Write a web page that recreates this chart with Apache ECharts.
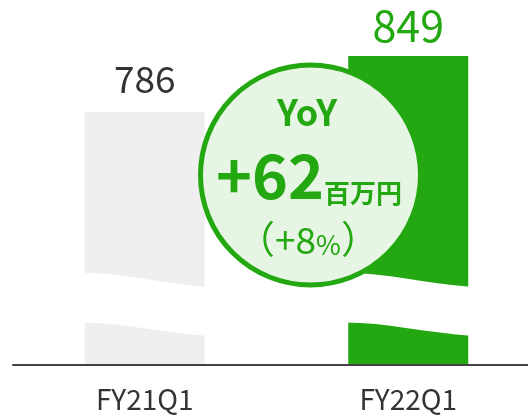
<!DOCTYPE html>
<html>
<head>
<meta charset="utf-8">
<script src="https://cdn.jsdelivr.net/npm/echarts@6/dist/echarts.min.js"></script>
<style>
  html, body { margin: 0; padding: 0; background: #fff; }
  #chart { width: 528px; height: 418px; }
</style>
</head>
<body>
<div id="chart"></div>
<script>
// data
const categories = ['FY21Q1', 'FY22Q1']
const sales = [786, 849]
const yoyDiff = [62]   // 百万円
const yoyPct = [8]     // %
// wavy axis break drawn across each bar (values at the left / right bar edge)
const breakUpper = [605, 589]
const breakLower = [549, 534]

const green = '#23a812'
const barColors = ['#efefef', green]
const labelColors = ['#333333', green]
const labelSizes = [37, 43]
const labelGaps = [15, 9]
const barWidth = 120
const fontFamily = '"Noto Sans CJK JP", "Noto Sans", sans-serif'

const chart = echarts.init(document.getElementById('chart'), null, { renderer: 'canvas' })

chart.setOption({
  animation: false,
  grid: {
    left: 13,
    width: 527,
    top: 56,
    bottom: 53,
    outerBoundsMode: 'none',
    containLabel: false
  },
  xAxis: {
    type: 'category',
    data: categories,
    axisTick: { show: false },
    axisLine: {
      lineStyle: { color: '#444', width: 2 }
    },
    axisLabel: {
      color: '#333',
      fontSize: 28,
      fontFamily: fontFamily,
      margin: 20
    },
    z: 5
  },
  yAxis: {
    type: 'value',
    show: false,
    min: 501,
    max: 849,
    splitLine: { show: false }
  },
  series: [
    {
      type: 'bar',
      barWidth: barWidth,
      data: sales.map((v, i) => ({
        value: v,
        itemStyle: { color: barColors[i] },
        label: {
          show: true,
          position: 'top',
          distance: labelGaps[i],
          color: labelColors[i],
          fontSize: labelSizes[i],
          fontFamily: fontFamily
        }
      }))
    },
    {
      // white wavy gap = axis break
      type: 'custom',
      silent: true,
      z: 3,
      data: categories.map((c, i) => [i]),
      renderItem: function (params, api) {
        const idx = api.value(0)
        const hiL = api.coord([idx, breakUpper[0]])
        const hiR = api.coord([idx, breakUpper[1]])
        const loL = api.coord([idx, breakLower[0]])
        const loR = api.coord([idx, breakLower[1]])
        const half = barWidth / 2 + 2
        const x0 = hiL[0] - half
        const x1 = hiL[0] + half
        const w = x1 - x0
        const p = 'M' + x0 + ' ' + hiL[1] +
          ' C' + (x0 + w * 0.3) + ' ' + hiL[1] + ' ' + (x0 + w * 0.65) + ' ' + (hiL[1] + (hiR[1] - hiL[1]) * 0.75) + ' ' + x1 + ' ' + hiR[1] +
          ' L' + x1 + ' ' + loR[1] +
          ' C' + (x0 + w * 0.65) + ' ' + (loL[1] + (loR[1] - loL[1]) * 0.75) + ' ' + (x0 + w * 0.3) + ' ' + loL[1] + ' ' + x0 + ' ' + loL[1] +
          ' Z'
        return {
          type: 'path',
          shape: { pathData: p },
          style: { fill: '#fff' }
        }
      }
    }
  ],
  graphic: [
    {
      type: 'circle',
      z: 10,
      silent: true,
      shape: { cx: 310.5, cy: 175, r: 110 },
      style: { fill: '#e7f5e4', stroke: green, lineWidth: 5 }
    },
    {
      type: 'text',
      z: 11,
      silent: true,
      style: {
        x: 307, y: 112,
        text: 'YoY',
        font: 'bold 36px ' + fontFamily,
        fill: green,
        align: 'center', verticalAlign: 'middle',
        textAlign: 'center', textVerticalAlign: 'middle'
      }
    },
    {
      type: 'text',
      z: 11,
      silent: true,
      style: {
        x: 309, y: 176,
        text: '{a|+' + yoyDiff[0] + '}{b|百万円}',
        fill: green,
        align: 'center', verticalAlign: 'middle',
        textAlign: 'center', textVerticalAlign: 'middle',
        rich: {
          a: { fontSize: 61, fontWeight: 'bold', fontFamily: fontFamily, color: green, verticalAlign: 'bottom', lineHeight: 60 },
          b: { fontSize: 26, fontWeight: 'bold', fontFamily: fontFamily, color: green, verticalAlign: 'bottom', lineHeight: 40 }
        }
      }
    },
    {
      type: 'text',
      z: 11,
      silent: true,
      style: {
        x: 308, y: 237,
        text: '{p|（}{n|+' + yoyPct[0] + '}{s|%}{p|）}',
        fill: green,
        align: 'center', verticalAlign: 'middle',
        textAlign: 'center', textVerticalAlign: 'middle',
        rich: {
          p: { fontSize: 38, fontFamily: fontFamily, color: green, verticalAlign: 'bottom', lineHeight: 42 },
          n: { fontSize: 37, fontFamily: fontFamily, color: green, verticalAlign: 'bottom', lineHeight: 42 },
          s: { fontSize: 27, fontFamily: fontFamily, color: green, verticalAlign: 'bottom', lineHeight: 37 }
        }
      }
    }
  ]
})
</script>
</body>
</html>
